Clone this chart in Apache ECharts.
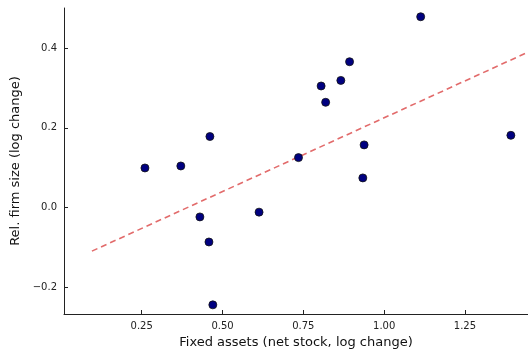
<!DOCTYPE html>
<html>
<head>
<meta charset="utf-8">
<script src="https://cdn.jsdelivr.net/npm/echarts@6/dist/echarts.min.js"></script>
<style>html,body{margin:0;padding:0;background:#fff;overflow:hidden}#c{width:528px;height:349px}</style>
</head>
<body>
<div id="c"></div>
<script>
const fixedAssets = [0.260, 0.371, 0.461, 0.430, 0.458, 0.470, 0.613, 0.735, 0.805, 0.819, 0.866, 0.893, 0.938, 0.934, 1.113, 1.392];
const firmSize    = [0.099, 0.104, 0.178, -0.024, -0.087, -0.245, -0.012, 0.125, 0.305, 0.264, 0.319, 0.366, 0.157, 0.074, 0.479, 0.181];
const fitX = [0.096, 1.445];
const fitY = [-0.110, 0.390];
const xTicks = [0.25, 0.5, 0.75, 1.0, 1.25];
const yTicks = [-0.2, 0.0, 0.2, 0.4];
const xTitle = 'Fixed assets (net stock, log change)';
const yTitle = 'Rel. firm size (log change)';

const font = 'DejaVu Sans';
const chart = echarts.init(document.getElementById('c'), null, {renderer: 'canvas', width: 528, height: 349});
chart.setOption({
  animation: false,
  backgroundColor: '#fff',
  grid: {left: 64, top: 8, width: 464, height: 306, containLabel: false, outerBoundsMode: 'none'},
  xAxis: {
    type: 'value', min: 0.0096, max: 1.445,
    splitLine: {show: false},
    axisLine: {show: true, onZero: false, lineStyle: {color: '#222', width: 1}},
    axisTick: {show: true, inside: true, length: 4, customValues: xTicks, lineStyle: {color: '#222'}},
    axisLabel: {customValues: xTicks, fontFamily: font, fontSize: 10, color: '#222', margin: 7,
      formatter: v => v.toFixed(2)},
    name: xTitle, nameLocation: 'middle', nameGap: 21,
    nameTextStyle: {fontFamily: font, fontSize: 13, color: '#111'}
  },
  yAxis: {
    type: 'value', min: -0.268, max: 0.501,
    splitLine: {show: false},
    axisLine: {show: true, onZero: false, lineStyle: {color: '#222', width: 1}},
    axisTick: {show: true, inside: true, length: 4, customValues: yTicks, lineStyle: {color: '#222'}},
    axisLabel: {customValues: yTicks, fontFamily: font, fontSize: 10, color: '#222', margin: 7,
      formatter: v => (v < 0 ? '\u2212' : '') + Math.abs(v).toFixed(1)},
    name: yTitle, nameLocation: 'middle', nameGap: 41, nameRotate: 90,
    nameTextStyle: {fontFamily: font, fontSize: 13, color: '#111'}
  },
  series: [
    {
      type: 'line',
      data: fitX.map((x, i) => [x, fitY[i]]),
      showSymbol: false, symbol: 'none',
      lineStyle: {color: '#e26b6b', width: 1.6, type: [6, 4]},
      z: 1, silent: true
    },
    {
      type: 'scatter',
      data: fixedAssets.map((x, i) => [x, firmSize[i]]),
      symbolSize: 8,
      itemStyle: {color: '#000080', borderColor: '#111', borderWidth: 0.8, opacity: 1},
      z: 2
    }
  ]
});
</script>
</body>
</html>
